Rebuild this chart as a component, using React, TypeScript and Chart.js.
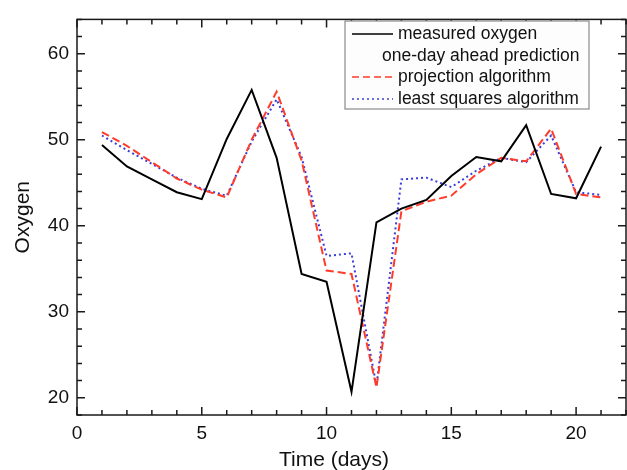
import React, { useEffect, useRef } from "react";
import { Chart, registerables } from "chart.js";

Chart.register(...registerables);

const days = [1, 2, 3, 4, 5, 6, 7, 8, 9, 10, 11, 12, 13, 14, 15, 16, 17, 18, 19, 20, 21];
const measured = [49.4, 46.9, 45.4, 43.9, 43.1, 50.1, 55.8, 47.9, 34.4, 33.5, 20.7, 40.4, 42.0, 43.0, 45.8, 48.0, 47.5, 51.7, 43.7, 43.2, 49.2];
const projection = [50.9, 49.3, 47.4, 45.5, 44.2, 43.3, 50.0, 55.6, 47.6, 34.8, 34.4, 21.2, 41.7, 42.8, 43.5, 46.0, 47.9, 47.5, 51.3, 43.7, 43.3];
const leastSquares = [50.5, 48.8, 47.2, 45.6, 44.3, 43.5, 49.8, 54.7, 48.0, 36.5, 36.8, 21.4, 45.4, 45.6, 44.5, 46.4, 47.9, 47.4, 50.5, 43.9, 43.6];

const xTicks = [0, 5, 10, 15, 20];
const yTicks = [20, 30, 40, 50, 60];
const xRange = [0, 22];
const yRange = [18, 64];

const seriesNames = ["measured oxygen", "projection algorithm", "least squares algorithm"];
const legendSubtitle = "one-day ahead prediction";
const xTitle = "Time (days)";
const yTitle = "Oxygen";

const FONT = "'Liberation Sans', Arial, Helvetica, sans-serif";
const RED = "#ff3b2a";
const BLUE = "#3c3cd8";

const decorPlugin = {
  id: "decor",
  afterDraw(chart: any) {
    const { ctx, chartArea: a, scales } = chart;
    const x = scales.x;
    const y = scales.y;
    ctx.save();
    ctx.setLineDash([]);
    // frame
    ctx.strokeStyle = "#1a1a1a";
    ctx.lineWidth = 1.5;
    ctx.strokeRect(a.left, a.top, a.right - a.left, a.bottom - a.top);
    // inward ticks
    ctx.lineWidth = 1.5;
    ctx.beginPath();
    for (let v = xRange[0]; v <= xRange[1]; v += 1) {
      const px = x.getPixelForValue(v);
      const len = v % 5 === 0 ? 8 : 5;
      ctx.moveTo(px, a.bottom);
      ctx.lineTo(px, a.bottom - len);
      ctx.moveTo(px, a.top);
      ctx.lineTo(px, a.top + len);
    }
    for (let v = yRange[0]; v <= yRange[1]; v += 2) {
      const py = y.getPixelForValue(v);
      const len = v % 10 === 0 ? 8 : 5;
      ctx.moveTo(a.left, py);
      ctx.lineTo(a.left + len, py);
      ctx.moveTo(a.right, py);
      ctx.lineTo(a.right - len, py);
    }
    ctx.stroke();

    // legend
    const bx = 345, by = 21, bw = 244, bh = 88;
    ctx.fillStyle = "#fdfdfd";
    ctx.fillRect(bx, by, bw, bh);
    ctx.strokeStyle = "#8a8a8a";
    ctx.lineWidth = 1.2;
    ctx.strokeRect(bx, by, bw, bh);
    ctx.font = `17.5px ${FONT}`;
    ctx.fillStyle = "#111";
    ctx.textBaseline = "middle";
    ctx.textAlign = "left";
    const rows = [
      { t: seriesNames[0], yy: 34, color: "#000", dash: [] as number[] },
      { t: seriesNames[1], yy: 77, color: RED, dash: [7, 4] },
      { t: seriesNames[2], yy: 99, color: BLUE, dash: [2, 3] },
    ];
    rows.forEach((r) => {
      ctx.strokeStyle = r.color;
      ctx.lineWidth = 1.5;
      ctx.setLineDash(r.dash);
      ctx.beginPath();
      ctx.moveTo(352, r.yy);
      ctx.lineTo(393, r.yy);
      ctx.stroke();
      ctx.setLineDash([]);
      ctx.fillText(r.t, 398, r.yy);
    });
    ctx.fillText(legendSubtitle, 382, 56);

    // axis titles
    ctx.font = `21px ${FONT}`;
    ctx.fillStyle = "#111";
    ctx.textAlign = "center";
    ctx.textBaseline = "alphabetic";
    ctx.fillText(xTitle, 334, 466);
    ctx.save();
    ctx.translate(29, (a.top + a.bottom) / 2);
    ctx.rotate(-Math.PI / 2);
    ctx.fillText(yTitle, 0, 0);
    ctx.restore();
    ctx.restore();
  },
};

export default function App() {
  const ref = useRef<HTMLCanvasElement | null>(null);
  useEffect(() => {
    if (!ref.current) return;
    const chart = new Chart(ref.current, {
      type: "line",
      data: {
        labels: days,
        datasets: [
          {
            label: seriesNames[0],
            data: days.map((d, i) => ({ x: d, y: measured[i] })),
            borderColor: "#000",
            borderWidth: 2,
            pointRadius: 0,
            tension: 0,
          },
          {
            label: seriesNames[1],
            data: days.map((d, i) => ({ x: d, y: projection[i] })),
            borderColor: RED,
            borderWidth: 2,
            borderDash: [8, 4],
            pointRadius: 0,
            tension: 0,
          },
          {
            label: seriesNames[2],
            data: days.map((d, i) => ({ x: d, y: leastSquares[i] })),
            borderColor: BLUE,
            borderWidth: 2,
            borderDash: [2, 3],
            pointRadius: 0,
            tension: 0,
          },
        ],
      },
      options: {
        responsive: false,
        animation: false,
        layout: { padding: { top: 10, right: 1, left: 0, bottom: 0 } },
        plugins: { legend: { display: false }, tooltip: { enabled: false } },
        scales: {
          x: {
            type: "linear",
            min: xRange[0],
            max: xRange[1],
            grid: { display: false, drawTicks: false },
            border: { display: false },
            afterBuildTicks: (s: any) => {
              s.ticks = xTicks.map((v) => ({ value: v }));
            },
            afterFit: (s: any) => {
              s.height = 55;
            },
            ticks: {
              padding: 7,
              color: "#111",
              font: { family: FONT, size: 19 },
              maxRotation: 0,
            },
          },
          y: {
            type: "linear",
            min: yRange[0],
            max: yRange[1],
            grid: { display: false, drawTicks: false },
            border: { display: false },
            afterBuildTicks: (s: any) => {
              s.ticks = yTicks.map((v) => ({ value: v }));
            },
            afterFit: (s: any) => {
              s.width = 77;
            },
            ticks: {
              padding: 8,
              color: "#111",
              font: { family: FONT, size: 19 },
            },
          },
        },
      },
      plugins: [decorPlugin],
    } as any);
    return () => chart.destroy();
  }, []);
  return (
    <div style={{ position: "fixed", left: 0, top: 0, width: 627, height: 470, background: "#fff" }}>
      <canvas ref={ref} width={627} height={470} style={{ width: 627, height: 470, display: "block" }} />
    </div>
  );
}
